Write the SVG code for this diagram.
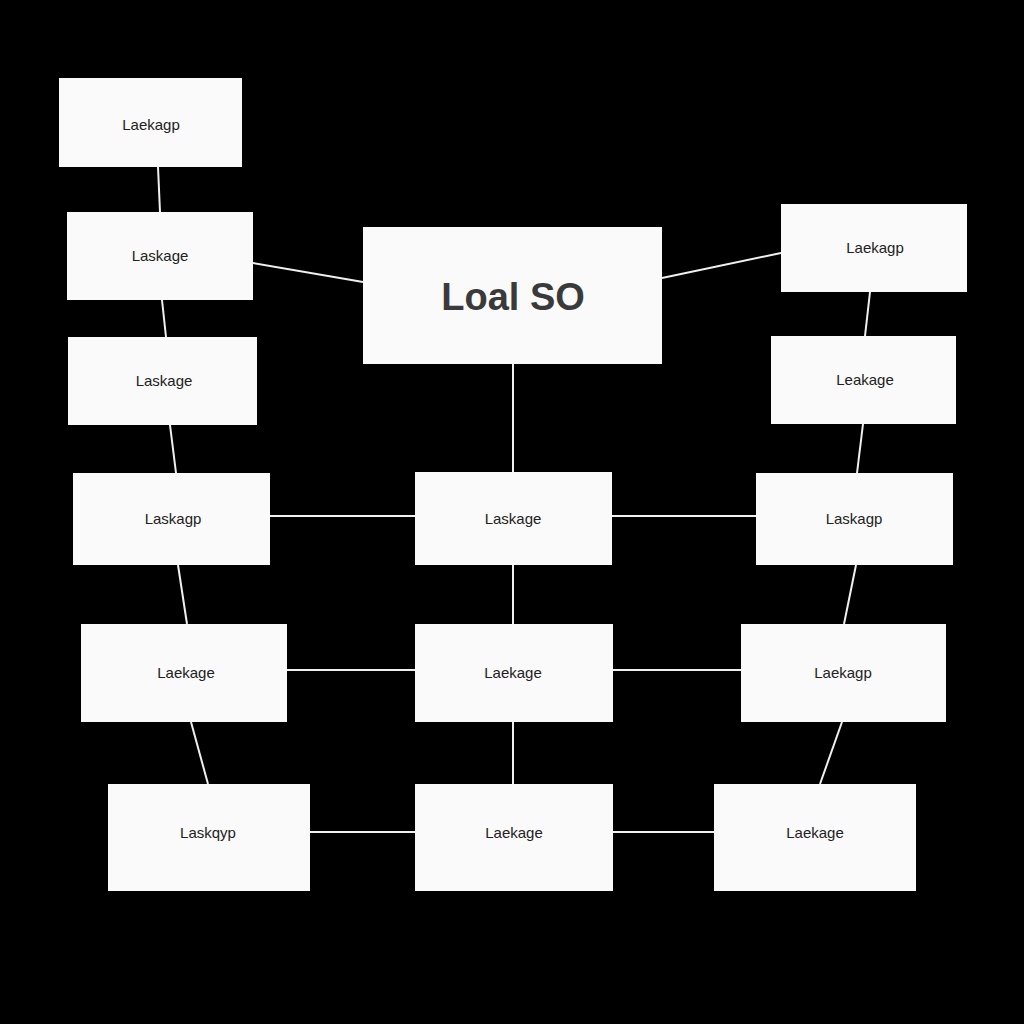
<svg xmlns="http://www.w3.org/2000/svg" width="1024" height="1024" viewBox="0 0 1024 1024">
<style>
.n{fill:#fafafa}
.t{font-family:"Liberation Sans",Arial,sans-serif;font-size:15px;fill:#222;text-anchor:middle;dominant-baseline:central}
.c line{stroke:#f0f0f0;stroke-width:2}
</style>
<rect width="1024" height="1024" fill="#000"/>
<g class="c">
<line x1="158" y1="167" x2="160" y2="212"/>
<line x1="162" y1="300" x2="166" y2="337"/>
<line x1="170" y1="425" x2="176" y2="473"/>
<line x1="178" y1="565" x2="187" y2="624"/>
<line x1="191" y1="722" x2="208" y2="784"/>
<line x1="253" y1="263" x2="363" y2="282"/>
<line x1="662" y1="278" x2="781" y2="253"/>
<line x1="870" y1="292" x2="865" y2="336"/>
<line x1="863" y1="424" x2="857" y2="473"/>
<line x1="856" y1="565" x2="844" y2="624"/>
<line x1="842" y1="722" x2="820" y2="784"/>
<line x1="513" y1="364" x2="513" y2="472"/>
<line x1="513" y1="565" x2="513" y2="624"/>
<line x1="513" y1="722" x2="513" y2="784"/>
<line x1="270" y1="516" x2="415" y2="516"/>
<line x1="612" y1="516" x2="756" y2="516"/>
<line x1="287" y1="670" x2="415" y2="670"/>
<line x1="613" y1="670" x2="741" y2="670"/>
<line x1="310" y1="832" x2="415" y2="832"/>
<line x1="613" y1="832" x2="714" y2="832"/>
</g>
<g id="center"><rect class="n" x="363" y="227" width="299" height="137"/><text class="t" x="513" y="297" style="font-size:38px;font-weight:bold;fill:#3a3a3a">Loal SO</text></g>
<g id="l1"><rect class="n" x="59" y="78" width="183" height="89"/><text class="t" x="151" y="124">Laekagp</text></g>
<g id="l2"><rect class="n" x="67" y="212" width="186" height="88"/><text class="t" x="160" y="255">Laskage</text></g>
<g id="l3"><rect class="n" x="68" y="337" width="189" height="88"/><text class="t" x="164" y="380">Laskage</text></g>
<g id="l4"><rect class="n" x="73" y="473" width="197" height="92"/><text class="t" x="173" y="518">Laskagp</text></g>
<g id="l5"><rect class="n" x="81" y="624" width="206" height="98"/><text class="t" x="186" y="672">Laekage</text></g>
<g id="l6"><rect class="n" x="108" y="784" width="202" height="107"/><text class="t" x="208" y="832">Laskqyp</text></g>
<g id="m1"><rect class="n" x="415" y="472" width="197" height="93"/><text class="t" x="513" y="518">Laskage</text></g>
<g id="m2"><rect class="n" x="415" y="624" width="198" height="98"/><text class="t" x="513" y="672">Laekage</text></g>
<g id="m3"><rect class="n" x="415" y="784" width="198" height="107"/><text class="t" x="514" y="832">Laekage</text></g>
<g id="r1"><rect class="n" x="781" y="204" width="186" height="88"/><text class="t" x="875" y="247">Laekagp</text></g>
<g id="r2"><rect class="n" x="771" y="336" width="185" height="88"/><text class="t" x="865" y="379">Leakage</text></g>
<g id="r3"><rect class="n" x="756" y="473" width="197" height="92"/><text class="t" x="854" y="518">Laskagp</text></g>
<g id="r4"><rect class="n" x="741" y="624" width="205" height="98"/><text class="t" x="843" y="672">Laekagp</text></g>
<g id="r5"><rect class="n" x="714" y="784" width="202" height="107"/><text class="t" x="815" y="832">Laekage</text></g>
</svg>
